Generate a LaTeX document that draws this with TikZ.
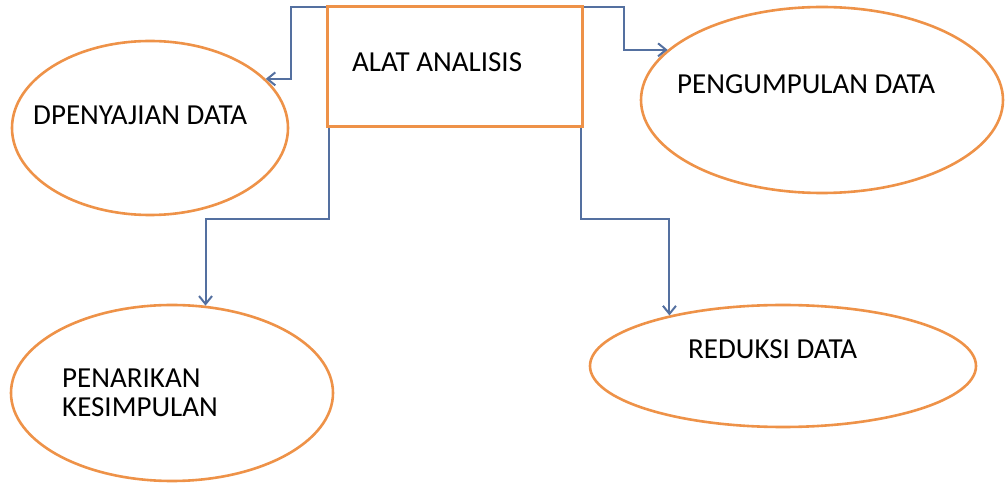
\documentclass[tikz,border=0pt]{standalone}
\usepackage{fontspec}
\setmainfont{Carlito}
\usetikzlibrary{calc,shapes.geometric,arrows.meta}
\definecolor{boxorange}{RGB}{238,146,72}
\definecolor{linkblue}{RGB}{84,112,160}

\begin{document}
\begin{tikzpicture}
[x=1pt,y=-1pt,>={Straight Barb[length=8pt,width=13pt]},
oval/.style={draw=boxorange,ellipse,line width=2.6pt,fill=white,inner sep=0pt},
tool/.style={draw=boxorange,rectangle,line width=3pt,inner sep=0pt,minimum width=255pt,minimum height=120pt},
link/.style={draw=linkblue,line width=2pt,->},
txt/.style={anchor=base west,inner sep=0pt,font=\fontsize{29}{29}\selectfont},]

\useasboundingbox (0,0) rectangle (1005,486);

%Main box
\node (alat) at (454.5,67)[tool] {};

%Ellipses
\node (dp) at (150,128)[oval,minimum width=276pt,minimum height=174pt] {};
\node (peng) at (822,100)[oval,minimum width=362pt,minimum height=186pt] {};
\node (pen) at (172,393)[oval,minimum width=322pt,minimum height=176pt] {};
\node (red) at (783,366)[oval,minimum width=386pt,minimum height=122pt] {};

%Labels
\node (alattxt) at (352,72)[txt] {ALAT ANALISIS};
\node (dptxt) at (33,125)[txt] {DPENYAJIAN DATA};
\node (pengtxt) at (677,94)[txt] {PENGUMPULAN DATA};
\node (pentxt) at (62,388)[txt] {PENARIKAN};
\node (kestxt) at (62,417)[txt] {KESIMPULAN};
\node (redtxt) at (688,359)[txt] {REDUKSI DATA};

%Connectors
\draw[link] ($(alat.north west)+(0,2)$) -- ++(-35,0) |- (dp.23);
\draw[link] ($(alat.north east)+(0,2)$) -- ++(40,0) |- (peng.162);
\draw[link] ($(alat.south west)+(3,0)$) -- ++(0,91) -| (pen.69);
\draw[link] ($(alat.south east)+(-3,0)$) -- ++(0,91) -| (red.156);

\end{tikzpicture}
\end{document}
